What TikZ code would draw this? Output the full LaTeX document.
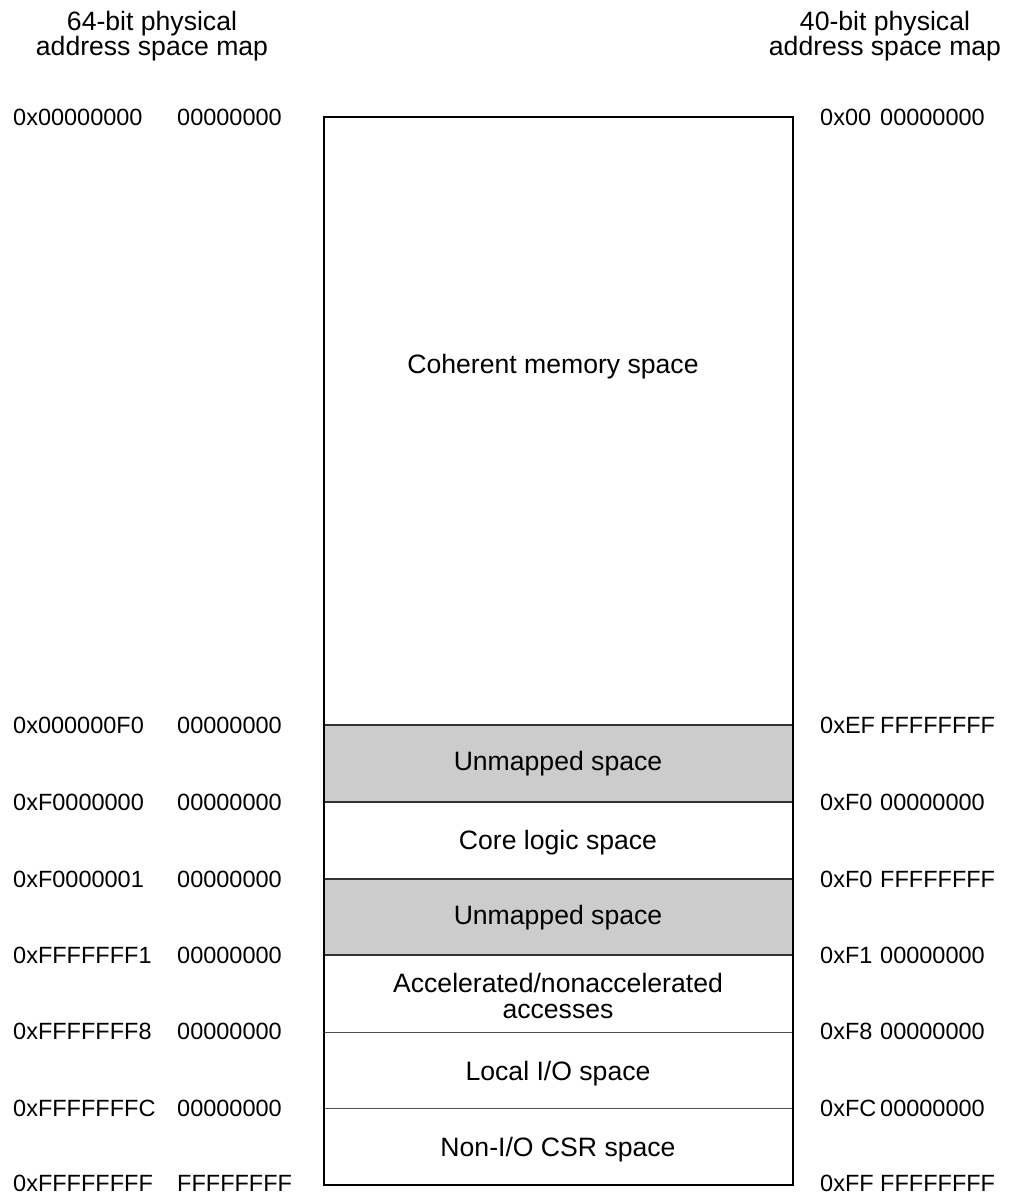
\documentclass[tikz,border=0pt]{standalone}
\usepackage{fontspec}
\setmainfont{Liberation Sans}
\definecolor{unmapped}{HTML}{CCCCCC}
\definecolor{divider}{HTML}{505050}

\tikzset{
  region/.style={font=\fontsize{26.6}{26}\selectfont, align=center, inner sep=0pt},
  addr/.style={font=\fontsize{23.5}{26}\selectfont, anchor=west, inner sep=0pt},
  title/.style={font=\fontsize{26.6}{25}\selectfont, align=center, inner sep=0pt},
}

\begin{document}
\begin{tikzpicture}[x=1pt, y=-1pt]
  \useasboundingbox (0,0) rectangle (1013,1197);

  % the two unmapped holes
  \fill[unmapped] (324,725) rectangle (793,802);
  \fill[unmapped] (324,879) rectangle (793,955);

  % boundaries between the regions
  \foreach \y in {725,802,879,955} {
    \draw[black!80, line width=1.2pt] (324,\y) -- (793,\y);
  }
  \foreach \y in {1032,1108} {
    \draw[divider, line width=1pt] (324,\y) -- (793,\y);
  }
  \draw[line width=2pt] (324,117) rectangle (793,1185);

  % region names
  \node[region] (coherent) at (553,367) {Coherent memory space};
  \node[region] (unmapA)   at (558,764) {Unmapped space};
  \node[region] (corelogic) at (558,843) {Core logic space};
  \node[region] (unmapB)   at (558,918) {Unmapped space};
  \node[region] (accel)    at (558,996) {Accelerated/nonaccelerated\\accesses};
  \node[region] (localio)  at (558,1074) {Local I/O space};
  \node[region] (csr)      at (558,1150) {Non-I/O CSR space};

  % column headings
  \node[title] (head64) at (152,36) {64-bit physical\\address space map};
  \node[title] (head40) at (885,36) {40-bit physical\\address space map};

  % 64-bit addresses (left) and 40-bit addresses (right)
  \foreach \y/\hi/\lo/\ra/\rb [count=\i] in {
      117/0x00000000/00000000/0x00/00000000,
      725/0x000000F0/00000000/0xEF/FFFFFFFF,
      802/0xF0000000/00000000/0xF0/00000000,
      879/0xF0000001/00000000/0xF0/FFFFFFFF,
      955/0xFFFFFFF1/00000000/0xF1/00000000,
      1031/0xFFFFFFF8/00000000/0xF8/00000000,
      1108/0xFFFFFFFC/00000000/0xFC/00000000,
      1183/0xFFFFFFFF/FFFFFFFF/0xFF/FFFFFFFF} {
    \node[addr] (hi\i) at (13,\y)  {\hi};
    \node[addr] (lo\i) at (177,\y) {\lo};
    \node[addr] (ra\i) at (820,\y) {\ra};
    \node[addr] (rb\i) at (880,\y) {\rb};
  }
\end{tikzpicture}
\end{document}
